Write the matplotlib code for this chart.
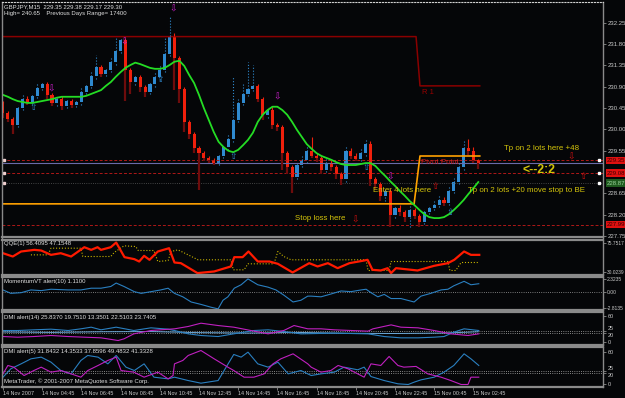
import numpy as np
import matplotlib
matplotlib.use("Agg")
import matplotlib.pyplot as plt

plt.rcParams['font.family'] = ['Liberation Sans', 'DejaVu Sans']

# ---------------------------------------------------------------- data
first_open = 230.55
closes = [230.35, 230.22, 230.10, 230.45, 230.65, 230.58, 230.70, 230.88, 230.95, 230.72,
          230.55, 230.65, 230.50, 230.60, 230.52, 230.58, 230.80, 230.92, 231.12, 231.32,
          231.18, 231.25, 231.42, 231.65, 231.88, 231.25, 231.00, 231.10, 230.90, 230.80,
          230.95, 231.10, 231.25, 231.60, 231.98, 231.50, 230.85, 230.15, 229.90, 229.60,
          229.50, 229.40, 229.35, 229.30, 229.45, 229.62, 229.80, 230.20, 230.55, 230.75,
          230.85, 230.92, 230.65, 230.30, 230.42, 230.10, 230.05, 229.50, 229.20, 229.00,
          229.25, 229.35, 229.55, 229.45, 229.40, 229.15, 229.30, 229.20, 229.05, 228.95,
          229.55, 229.45, 229.38, 229.50, 229.70, 228.95, 228.85, 228.60, 228.70, 228.20,
          228.35, 228.25, 228.15, 228.30, 228.18, 228.05, 228.25, 228.35, 228.40, 228.52,
          228.45, 228.70, 228.90, 229.20, 229.60, 229.55, 229.35, 229.30]
wick_up = [0.05, 0.04, 0.05, 0.06, 0.08, 0.05, 0.06, 0.10, 0.06, 0.05,
           0.04, 0.06, 0.05, 0.06, 0.04, 0.05, 0.08, 0.06, 0.10, 0.25,
           0.05, 0.06, 0.10, 0.30, 0.05, 0.04, 0.05, 0.08, 0.05, 0.04,
           0.06, 0.12, 0.10, 0.35, 0.40, 0.06, 0.05, 0.04, 0.05, 0.04,
           0.05, 0.04, 0.04, 0.05, 0.06, 0.08, 0.10, 0.90, 0.10, 0.20,
           0.58, 0.45, 0.05, 0.04, 0.06, 0.05, 0.04, 0.05, 0.04, 0.05,
           0.06, 0.08, 0.10, 0.30, 0.05, 0.05, 0.08, 0.05, 0.04, 0.05,
           0.10, 0.05, 0.06, 0.08, 0.10, 0.05, 0.04, 0.05, 0.06, 0.04,
           0.06, 0.05, 0.04, 0.08, 0.05, 0.04, 0.08, 0.06, 0.08, 0.10,
           0.06, 0.10, 0.08, 0.10, 0.18, 0.20, 0.08, 0.03]
wick_dn = [0.10, 0.06, 0.20, 0.05, 0.04, 0.06, 0.05, 0.04, 0.05, 0.08,
           0.06, 0.05, 0.08, 0.04, 0.06, 0.05, 0.06, 0.05, 0.04, 0.05,
           0.08, 0.05, 0.04, 0.05, 0.04, 0.65, 0.25, 0.06, 0.10, 0.12,
           0.05, 0.06, 0.05, 0.04, 0.05, 0.67, 0.30, 0.20, 0.10, 0.10,
           0.78, 0.06, 0.05, 0.06, 0.04, 0.05, 0.05, 0.06, 0.05, 0.04,
           0.05, 0.04, 0.08, 0.10, 0.05, 0.10, 0.08, 0.35, 0.15, 0.34,
           0.05, 0.04, 0.05, 0.06, 0.08, 0.10, 0.05, 0.08, 0.10, 0.12,
           0.05, 0.08, 0.05, 0.04, 0.05, 0.15, 0.10, 0.10, 0.12, 0.25,
           0.06, 0.08, 0.10, 0.20, 0.06, 0.10, 0.05, 0.04, 0.05, 0.04,
           0.06, 0.05, 0.04, 0.05, 0.06, 0.08, 0.06, 0.13]
ma_line = [230.73, 230.69, 230.64, 230.60, 230.58, 230.56, 230.56, 230.58, 230.60, 230.62,
           230.64, 230.67, 230.69, 230.69, 230.69, 230.69, 230.69, 230.71, 230.75, 230.79,
           230.83, 230.92, 231.00, 231.11, 231.21, 231.30, 231.36, 231.41, 231.38, 231.34,
           231.30, 231.28, 231.28, 231.30, 231.36, 231.43, 231.45, 231.34, 231.15, 230.98,
           230.73, 230.45, 230.20, 229.95, 229.74, 229.63, 229.55, 229.52, 229.57, 229.67,
           229.78, 229.93, 230.16, 230.31, 230.41, 230.48, 230.48, 230.41, 230.31, 230.16,
           229.99, 229.84, 229.69, 229.59, 229.50, 229.44, 229.40, 229.36, 229.31, 229.27,
           229.25, 229.25, 229.25, 229.27, 229.29, 229.29, 229.23, 229.12, 229.02, 228.91,
           228.81, 228.70, 228.60, 228.49, 228.40, 228.30, 228.21, 228.15, 228.13, 228.13,
           228.15, 228.21, 228.30, 228.40, 228.51, 228.64, 228.76, 228.89]

r1_idx = [-0.5, 84.3, 85.1, 97.3]
r1_price = [231.96, 231.96, 230.92, 230.92]
stop_idx = [-0.5, 83.9, 85.1, 97.3]
stop_price = [228.43, 228.43, 229.44, 229.44]

red_levels = [229.35, 229.08, 227.99]
red_level_labels = ['229.35', '229.08', '227.99']
grey_level = 228.87
bid_level = 229.30
price_ticks = [232.25, 231.80, 231.35, 230.90, 230.45, 230.00, 229.55, 228.65, 228.20, 227.75]

# signal arrows: (bar, price)
magenta_dn = [(34.7, 232.54), (24.7, 231.85), (9.8, 230.86), (55.9, 230.69), (79.0, 229.00)]
blue_up = [(6.1, 230.46), (32.0, 231.05), (46.9, 229.42), (74.1, 229.19), (91.2, 228.24)]
red_dn = [(71.8, 228.09), (115.9, 229.42)]
red_up = [(88.2, 228.79), (118.4, 229.00)]

qqe_idx = [0, 2.0, 3.7, 6.4, 7.8, 9.8, 11.8, 13.9, 16.6, 18, 19.3, 20, 22, 23.1, 24.8, 26.8,
           27.8, 28.8, 29.9, 31.6, 33.9, 35, 36.3, 39.7, 43.1, 46.5, 47.2, 48.9, 50.1, 52,
           54.4, 56.1, 59.1, 62.5, 64.2, 66.3, 68.3, 70.7, 73.7, 74.4, 75.4, 77.1, 78.5, 79.2,
           80.2, 84.6, 88, 90.8, 92.1, 94.1, 95.5, 97.2]
qqe_val = [59.6, 54.6, 62.2, 64.7, 63.7, 57.1, 59.6, 54.6, 68.7, 64.7, 68.7, 64.7, 68.7, 75.8,
           53.6, 50.6, 47.0, 55.6, 49.6, 62.2, 67.2, 45.5, 44.5, 29.4, 31.9, 39.5, 53.6, 53.6,
           62.2, 47.0, 47.0, 43.5, 30.4, 44.5, 39.5, 44.5, 36.9, 44.5, 48.5, 49.6, 34.4, 33.4,
           36.9, 29.4, 36.9, 33.4, 40.5, 44.5, 49.6, 62.2, 57.1, 57.1]
qqe_sig_idx = [5.7, 9.2, 9.8, 15.9, 16.3, 22, 22.7, 24.7, 27.1, 27.6, 30.8, 31.6, 33.7, 34.3,
               35.7, 37.8, 39.8, 46.5, 47, 49.2, 50, 55.3, 56.1, 57.3, 58.8, 74.1, 74.5, 78.8,
               79.2, 90.8, 91.2, 92.4, 93.5, 97.1]
qqe_sig_val = [57.1, 57.1, 67.2, 67.2, 54.6, 54.6, 60.7, 70.8, 69.75, 63.7, 63.7, 47.0, 48.5,
               62.2, 64.7, 57.1, 49.6, 49.6, 34.4, 34.4, 43.5, 43.5, 62.2, 54.6, 49.6, 49.6,
               33.4, 33.4, 47.0, 47.0, 33.4, 33.4, 45.5, 45.5]

mom_idx = [0, 1.6, 3.7, 5.7, 7.8, 9.8, 13.3, 15.9, 18, 20, 22, 23.1, 24.7, 26.8, 28.2, 30.2,
           32.2, 33.7, 35, 36.7, 38.4, 40.4, 42.4, 43.9, 44.9, 45.9, 47.2, 48.6, 50, 52, 54.1,
           55.7, 57.3, 59.2, 60.8, 62.2, 62.9, 64.9, 66.9, 69, 71, 73.1, 74.1, 75.1, 76.5,
           77.8, 79.2, 81.2, 83.9, 85.3, 87.3, 89.4, 90.8, 92, 94.1, 95.5, 97.1]
mom_val = [0.41, -0.19, -0.07, 0.41, 0.29, 0.53, 0.41, 0.41, 0.71, 0.71, 1.01, 1.61, 1.01,
           0.11, -0.19, 0.11, 0.41, 0.71, -0.19, -0.79, -1.69, -2.11, -2.59, -2.89, -1.39,
           -0.79, 0.71, 1.31, 2.33, 1.31, 0.89, 0.41, -0.49, -1.69, -1.39, -0.67, -0.67,
           -0.79, -0.31, 0.23, 0.11, 0.41, 0.53, -0.07, -0.79, -0.37, -1.09, -1.09, -1.69,
           -0.67, -0.19, 0.41, 0.53, 1.13, 1.91, 1.31, 1.49]

d14_blue_idx = [0, 3, 6.3, 9.8, 13.3, 15.9, 18, 20, 23.1, 26.7, 30.2, 33.7, 35, 37.8, 40.4,
                43.9, 47.1, 51.2, 54.1, 57.3, 60.8, 67.6, 74.5, 77.8, 81.2, 84.7, 88, 90, 92,
                94.1, 97.1]
d14_blue_val = [25.4, 25.4, 27.0, 28.5, 25.4, 29.3, 33.1, 27.0, 33.1, 25.4, 31.6, 28.5, 25.4,
                17.7, 13.9, 11.5, 17.7, 25.4, 27.0, 23.1, 17.7, 19.3, 17.7, 11.5, 8.5, 8.5,
                10.0, 11.5, 21.6, 29.3, 25.4]
d14_mag_idx = [0, 3, 6.3, 9.8, 13.3, 16.6, 20, 23.5, 24.7, 26.7, 30.2, 35, 37.8, 40.4, 43.9,
               47.1, 50.6, 54.1, 57.3, 59.4, 62.2, 64.9, 67.6, 74.5, 75.5, 79.2, 81.2, 84.7,
               88, 91.4, 94.9, 97.1]
d14_mag_val = [11.5, 10.0, 11.5, 13.9, 11.5, 10.0, 8.5, 2.3, 6.2, 17.7, 25.4, 29.3, 34.7,
               42.3, 36.9, 33.1, 25.4, 17.7, 25.4, 36.9, 29.3, 29.3, 27.0, 23.9, 29.3, 38.4,
               33.1, 31.6, 25.4, 17.7, 13.9, 17.7]
d14_adx_idx = [0, 10, 20, 30, 40, 50, 60, 70, 80, 90, 97]
d14_adx_val = [22.0, 21.0, 22.5, 23.0, 20.5, 19.5, 21.0, 19.0, 18.5, 19.5, 22.5]

d5_blue_idx = [0, 1.6, 3.7, 5.7, 7.8, 9.8, 11.8, 13.9, 15.9, 17.3, 19.4, 21.4, 23.1, 25.1,
               26.8, 28.8, 30.8, 33.7, 35, 37.8, 40.4, 43.9, 47.1, 48.6, 50, 52, 54.1, 56.1,
               58.2, 60.8, 62.9, 64.9, 67.6, 69.6, 72.4, 73.7, 75.1, 77.8, 80.6, 82.7, 83.9,
               85.3, 88, 90, 92, 94.1, 95.5, 97.1]
d5_blue_val = [12.6, 28.5, 37.9, 47.4, 50.6, 41.1, 25.2, 18.9, 44.3, 53.8, 50.6, 37.9, 53.8,
               31.6, 25.2, 37.9, 12.6, 9.4, 12.6, 6.2, 1.2, 6.2, 55.7, 50.6, 60.1, 37.9, 31.6,
               41.1, 18.9, 25.2, 15.7, 18.9, 22.1, 31.6, 26.6, 31.6, 13.8, 6.2, 0.0, -1.3, 3.1,
               7.5, 12.6, 22.1, 34.8, 56.9, 47.4, 34.8]
d5_mag_idx = [0, 1, 2.2, 4.3, 6.3, 7.8, 9.8, 11.8, 13.9, 15.9, 17.3, 19.4, 21.4, 23.1, 24.1,
              26.7, 28.8, 31.6, 33.7, 34.7, 35, 36.7, 37.8, 40.4, 43.1, 45.9, 47.1, 49.2, 51.2,
              53.3, 55.1, 56.7, 59.2, 62.2, 62.9, 64.9, 66.9, 68.4, 70.4, 73.7, 75.1, 77.1,
              78.8, 80.6, 81.8, 84.3, 86.7, 89.4, 91.4, 93.5, 94.9, 95.5, 97.1]
d5_mag_val = [18.9, 34.8, 31.6, 15.7, 25.2, 31.6, 22.1, 25.2, 18.9, 12.6, 25.2, 34.8, 44.3,
              50.6, 25.2, 22.1, 12.6, 22.1, 9.4, 15.7, 37.9, 44.3, 53.8, 63.2, 47.4, 31.6,
              25.2, 12.6, 12.6, 18.9, 37.9, 47.4, 56.9, 37.9, 31.6, 22.1, 25.2, 34.8, 28.5,
              12.6, 37.9, 34.8, 51.9, 34.8, 31.6, 33.0, 18.9, 12.6, 6.2, -1.3, -1.3, 12.6,
              12.6]

date_ticks = [0, 8, 16, 24, 32, 40, 48, 56, 64, 72, 80, 88, 96]
date_labels = ['14 Nov 2007', '14 Nov 04:45', '14 Nov 06:45', '14 Nov 08:45', '14 Nov 10:45',
               '14 Nov 12:45', '14 Nov 14:45', '14 Nov 16:45', '14 Nov 18:45', '14 Nov 20:45',
               '14 Nov 22:45', '15 Nov 00:45', '15 Nov 02:45']

# ---------------------------------------------------------------- style
BG = '#050608'
FRAME = '#8a8a8a'
LBL = '#c8c8c8'
BLUE = '#2f8ad0'
RED = '#f0200c'
DKRED = '#6e0c0c'
YEL = '#d4c40a'
W, H = 625.0, 398.0
XL = (-0.2, 122.45)

fig = plt.figure(figsize=(6.25, 3.98), dpi=100, facecolor=BG)


def panel(top, bot, lsize=4.3, pad=1.2):
    ax = fig.add_axes([2 / W, 1 - bot / H, 601 / W, (bot - top) / H])
    ax.set_facecolor(BG)
    ax.set_xlim(*XL)
    for s in ax.spines.values():
        s.set_color(FRAME)
        s.set_linewidth(1.0)
    ax.spines['top'].set_linewidth(1.6)
    ax.spines['bottom'].set_linewidth(1.6)
    ax.yaxis.tick_right()
    ax.tick_params(axis='y', colors=FRAME, labelcolor=LBL, labelsize=lsize,
                   length=2, width=0.6, pad=pad)
    ax.tick_params(axis='x', bottom=False, labelbottom=False)
    return ax


def ptext(x, y, s, **kw):
    fig.text(x / W, 1 - y / H, s, va='center', ha='left', **kw)


def dmi_ticks(a):
    a.set_yticks([60, 25, 20, 0])
    a.set_yticklabels(['60', '25', '20', '0'])
    labs = a.get_yticklabels()
    labs[1].set_va('bottom')
    labs[2].set_va('top')


ax = panel(2, 237.5)
ax.set_ylim(227.72, 232.69)
ax.spines['top'].set_linestyle(':')
ax.spines['top'].set_color('#d0d0d0')
ax.spines['top'].set_linewidth(0.8)
ax.set_yticks(price_ticks)
ax.set_yticklabels(['%.2f' % p for p in price_ticks])

# level lines
for lv in red_levels:
    ax.axhline(lv, color='#b01818', lw=0.7, ls=(0, (3, 2)))
ax.axhline(grey_level, color='#5a5a5a', lw=0.6, ls=':')
ax.axhline(bid_level, color='#6a6aa8', lw=0.8)
ax.plot(r1_idx, r1_price, color='#8a0000', lw=1.1)
ax.plot(stop_idx, stop_price, color='#ffa000', lw=1.2)

# candles
opens = [first_open] + closes[:-1]
for i in range(len(closes)):
    o, c = opens[i], closes[i]
    top, bot = max(o, c), min(o, c)
    if c >= o:
        ax.vlines(i, top, top + wick_up[i], color=BLUE, lw=0.8, ls=':')
        ax.vlines(i, bot - wick_dn[i], bot, color=BLUE, lw=0.8, ls=':')
        ax.bar(i, max(top - bot, 0.015), bottom=bot, width=0.62, color=BLUE, lw=0)
    else:
        ax.vlines(i, top, top + wick_up[i], color=RED, lw=0.8)
        ax.vlines(i, bot - wick_dn[i], bot, color=DKRED, lw=1.6)
        ax.bar(i, max(top - bot, 0.015), bottom=bot, width=0.62, color=RED, lw=0)

ax.plot(range(len(ma_line)), ma_line, color='#24dc24', lw=1.3)

# arrows
for pts, glyph, col in ((magenta_dn, '\u21e9', '#d020d0'), (blue_up, '\u21e7', BLUE),
                        (red_dn, '\u21e9', '#d01010'), (red_up, '\u21e7', '#d01010')):
    for xi, yi in pts:
        ax.text(xi, yi, glyph, color=col, fontsize=6.5, ha='center', va='center',
                family='DejaVu Sans')

# annotations
ax.text(85.5, 230.79, 'R 1', color='#9a0000', fontsize=5.5, va='center')
ax.text(85.3, 229.31, 'Pivot Point', color='#c82020', fontsize=5.7, va='center')
ax.text(102.2, 229.60, 'Tp on 2 lots here +48', color=YEL, fontsize=5.7, va='center')
ax.text(106.0, 229.14, '<--2:2', color=YEL, fontsize=8.8, va='center', weight='bold')
ax.text(94.9, 228.72, 'Tp on 2 lots +20 move stop to BE', color=YEL, fontsize=5.7,
        va='center')
ax.text(75.5, 228.71, 'Enter 4 lots here', color=YEL, fontsize=5.7, va='center')
ax.text(59.6, 228.13, 'Stop loss here', color=YEL, fontsize=5.7, va='center')

# price boxes on the right scale
tr = ax.get_yaxis_transform()
for lv, lab in zip(red_levels, red_level_labels):
    ax.text(1.006, lv, lab, transform=tr, fontsize=4.3, color='#3c0000', va='center',
            ha='left', bbox=dict(boxstyle='square,pad=0.18', fc='#e01010', ec='none'),
            clip_on=False)
ax.text(1.006, grey_level, '228.87', transform=tr, fontsize=4.3, color='#9ad09a',
        va='center', ha='left',
        bbox=dict(boxstyle='square,pad=0.18', fc='#1e5a1e', ec='none'), clip_on=False)
ax.plot([121.6] * 3, [229.35, 229.08, 228.87], 's', color='white', ms=1.6, clip_on=False)
ax.plot([0.2] * 3, [229.35, 229.08, 228.87], 's', color='#f0d0d0', ms=1.6, clip_on=False)

ptext(4, 6.5, 'GBPJPY,M15  229.35 229.38 229.17 229.30', color='#e0e0e0', fontsize=4.3)
ptext(4, 13.5, 'High= 240.65    Previous Days Range= 17400', color='#e0e0e0', fontsize=4.3)

# QQE
aq = panel(239.5, 274.5, 3.5, 0.8)
aq.set_ylim(27.3, 80.4)
aq.plot(qqe_sig_idx, qqe_sig_val, color='#c8b400', lw=0.8, ls=':')
aq.plot(qqe_idx, qqe_val, color='#ff1a00', lw=1.6)
aq.set_yticks([74.5, 31.5])
aq.set_yticklabels(['75.7517', '30.0239'])
ptext(4, 244, 'QQE(1) 56.4095 47.1548', color='#e0e0e0', fontsize=4.3)

# Momentum
am = panel(276.5, 309.5, 3.6, 0.8)
am.set_ylim(-3.0, 2.75)
am.axhline(0, color='#a0a0a0', lw=0.6, ls=':')
am.plot(mom_idx, mom_val, color='#2a7fc0', lw=0.8)
am.set_yticks([2.3235, 0.0, -2.8135])
am.set_yticklabels(['2.3235', '0.00', '-2.8135'])
ptext(4, 282, 'MomentumVT alert(10) 1.1100', color='#e0e0e0', fontsize=4.3)

# DMI 14
a14 = panel(311.5, 344.5, 4.0)
a14.set_ylim(-6.9, 69.3)
for lv in (25, 20):
    a14.axhline(lv, color='#b0b0b0', lw=0.6, ls=':')
a14.plot(d14_adx_idx, d14_adx_val, color='#6aa8d8', lw=0.7)
a14.plot(d14_blue_idx, d14_blue_val, color='#2a7fc0', lw=0.8)
a14.plot(d14_mag_idx, d14_mag_val, color='#c020c0', lw=0.8)
dmi_ticks(a14)
ptext(4, 317, 'DMI alert(14) 25.8370 19.7510 13.3501 22.5103 23.7405', color='#e0e0e0',
      fontsize=4.3)

# DMI 5
a5 = panel(346.5, 386.5, 4.0)
a5.set_ylim(-5.1, 70.8)
for lv in (25, 20):
    a5.axhline(lv, color='#b0b0b0', lw=0.6, ls=':')
a5.plot(d5_blue_idx, d5_blue_val, color='#2a7fc0', lw=0.8)
a5.plot(d5_mag_idx, d5_mag_val, color='#c020c0', lw=0.8)
dmi_ticks(a5)
a5.set_xticks(date_ticks)
a5.set_xticklabels(date_labels, ha='left')
a5.tick_params(axis='x', bottom=True, labelbottom=True, colors=FRAME, labelcolor=LBL,
               labelsize=3.9, length=2, width=0.6, pad=1.5)
ptext(4, 352, 'DMI alert(5) 31.8432 14.3533 37.8596 49.4832 41.3328', color='#e0e0e0',
      fontsize=4.3)
ptext(4, 381, 'MetaTrader, \u00a9 2001-2007 MetaQuotes Software Corp.', color='#e0e0e0',
      fontsize=4.3)

fig.savefig('out.png', dpi=100, facecolor=BG)
